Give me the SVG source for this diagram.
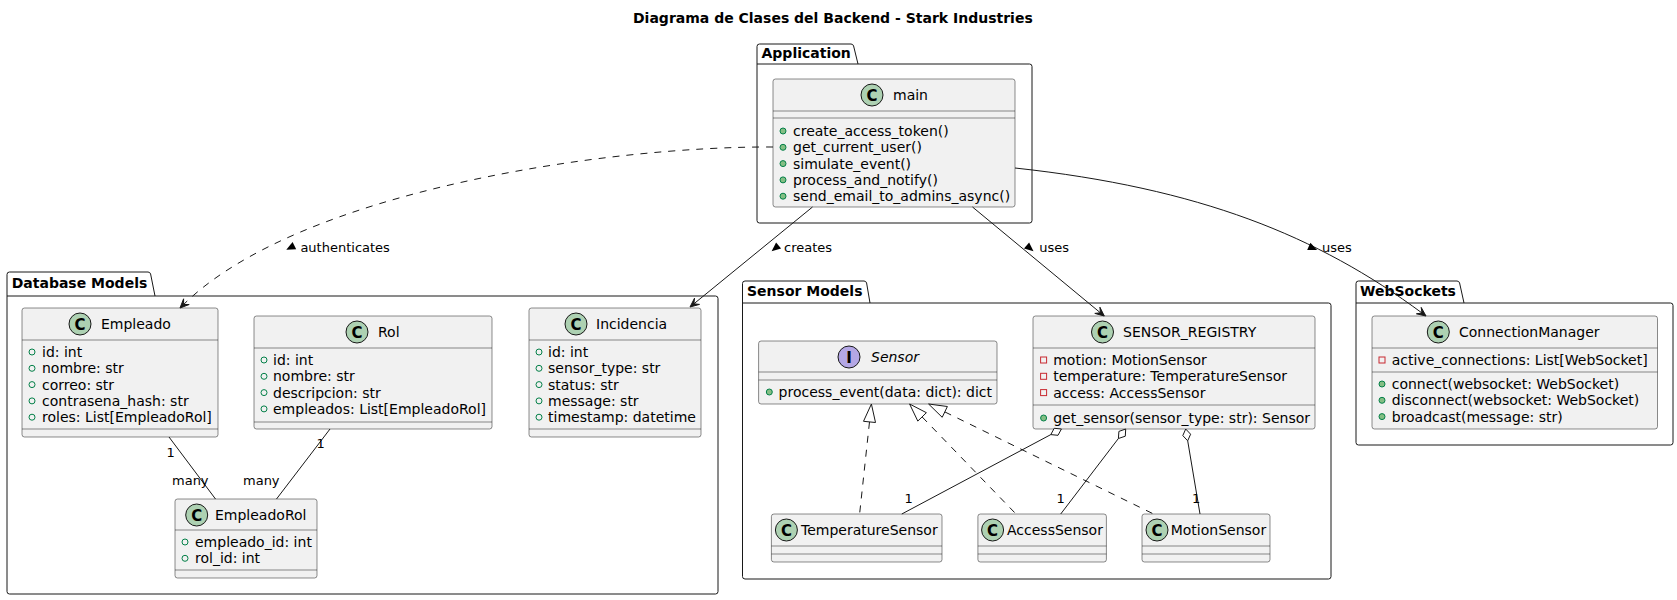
<svg xmlns="http://www.w3.org/2000/svg" width="1677" height="600" viewBox="0 0 1677 600">
<style>
.cls{fill:#F1F1F1;stroke:#181818;stroke-width:0.5}
.sep{stroke:#181818;stroke-width:0.5}
.pkg{fill:none;stroke:#181818;stroke-width:1}
text{font-family:"DejaVu Sans","Liberation Sans",sans-serif;fill:#000000}
.t{font-size:14px}
.pt{font-size:14px;font-weight:bold}
.title{font-size:14px;font-weight:bold}
.lbl{font-size:13px}
.ci{fill:#ADD1B2;stroke:#181818;stroke-width:1}
.ii{fill:#B4A7E5;stroke:#181818;stroke-width:1}
.cg{font-size:15px;font-weight:bold;text-anchor:middle}
.pm{fill:#84BE84;stroke:#038048;stroke-width:1}
.pf{fill:none;stroke:#038048;stroke-width:1}
.pr{fill:none;stroke:#C82930;stroke-width:1}
.ln{fill:none;stroke:#181818;stroke-width:1}
.dash{stroke-dasharray:7,7}
.ah{fill:#181818;stroke:#181818;stroke-width:1}
.hol{fill:#FFFFFF;stroke:#181818;stroke-width:1}
.tri{fill:#000000}
</style>
<rect x="0" y="0" width="1677" height="600" fill="#FFFFFF"/>
<text class="title" x="633" y="23">Diagrama de Clases del Backend - Stark Industries</text>

<g id="pkg-application">
<path class="pkg" d="M757,64 L757,46.5 Q757,44 759.5,44 L851,44 Q853,44 853.6,46 L858,64 L1029.5,64 Q1032,64 1032,66.5 L1032,220.5 Q1032,223 1029.5,223 L759.5,223 Q757,223 757,220.5 Z M757,64 L858,64"/>
<text class="pt" x="761.5" y="58">Application</text>
</g>
<g id="pkg-database">
<path class="pkg" d="M7,296 L7,274.5 Q7,272 9.5,272 L148,272 Q150,272 150.6,274 L155,296 L715.5,296 Q718,296 718,298.5 L718,591.5 Q718,594 715.5,594 L9.5,594 Q7,594 7,591.5 Z M7,296 L155,296"/>
<text class="pt" x="11.7" y="288">Database Models</text>
</g>
<g id="pkg-sensor">
<path class="pkg" d="M742.5,303 L742.5,283.5 Q742.5,281 745,281 L864,281 Q866,281 866.6,283 L870,303 L1328.5,303 Q1331,303 1331,305.5 L1331,576.5 Q1331,579 1328.5,579 L745,579 Q742.5,579 742.5,576.5 Z M742.5,303 L870,303"/>
<text class="pt" x="747" y="296">Sensor Models</text>
</g>
<g id="pkg-websockets">
<path class="pkg" d="M1356,303 L1356,283.5 Q1356,281 1358.5,281 L1457,281 Q1459,281 1459.6,283 L1464,303 L1670.5,303 Q1673,303 1673,305.5 L1673,442.5 Q1673,445 1670.5,445 L1358.5,445 Q1356,445 1356,442.5 Z M1356,303 L1464,303"/>
<text class="pt" x="1360" y="296">WebSockets</text>
</g>

<g id="main">
<rect class="cls" x="773" y="79" width="242" height="128" rx="2.5"/>
<line class="sep" x1="773" y1="111" x2="1015" y2="111"/>
<line class="sep" x1="773" y1="118" x2="1015" y2="118"/>
<circle class="ci" cx="872" cy="95" r="11"/>
<text class="cg" x="872" y="100.5">C</text>
<text class="t" x="893" y="100">main</text>
<circle class="pm" cx="783" cy="131" r="3"/><text class="t" x="793" y="136">create_access_token()</text>
<circle class="pm" cx="783" cy="147.3" r="3"/><text class="t" x="793" y="152.3">get_current_user()</text>
<circle class="pm" cx="783" cy="163.6" r="3"/><text class="t" x="793" y="168.6">simulate_event()</text>
<circle class="pm" cx="783" cy="179.9" r="3"/><text class="t" x="793" y="184.9">process_and_notify()</text>
<circle class="pm" cx="783" cy="196.2" r="3"/><text class="t" x="793" y="201.2">send_email_to_admins_async()</text>
</g>

<g id="Empleado">
<rect class="cls" x="22" y="308" width="196" height="129" rx="2.5"/>
<line class="sep" x1="22" y1="340" x2="218" y2="340"/>
<line class="sep" x1="22" y1="429" x2="218" y2="429"/>
<circle class="ci" cx="80" cy="324" r="11"/>
<text class="cg" x="80" y="329.5">C</text>
<text class="t" x="101" y="329">Empleado</text>
<circle class="pf" cx="32" cy="352" r="3"/><text class="t" x="42" y="357">id: int</text>
<circle class="pf" cx="32" cy="368.3" r="3"/><text class="t" x="42" y="373.3">nombre: str</text>
<circle class="pf" cx="32" cy="384.6" r="3"/><text class="t" x="42" y="389.6">correo: str</text>
<circle class="pf" cx="32" cy="400.9" r="3"/><text class="t" x="42" y="405.9">contrasena_hash: str</text>
<circle class="pf" cx="32" cy="417.2" r="3"/><text class="t" x="42" y="422.2">roles: List[EmpleadoRol]</text>
</g>

<g id="Rol">
<rect class="cls" x="254" y="316" width="238" height="113" rx="2.5"/>
<line class="sep" x1="254" y1="348" x2="492" y2="348"/>
<line class="sep" x1="254" y1="422" x2="492" y2="422"/>
<circle class="ci" cx="357" cy="332" r="11"/>
<text class="cg" x="357" y="337.5">C</text>
<text class="t" x="378" y="337">Rol</text>
<circle class="pf" cx="264" cy="360" r="3"/><text class="t" x="273" y="365">id: int</text>
<circle class="pf" cx="264" cy="376.3" r="3"/><text class="t" x="273" y="381.3">nombre: str</text>
<circle class="pf" cx="264" cy="392.6" r="3"/><text class="t" x="273" y="397.6">descripcion: str</text>
<circle class="pf" cx="264" cy="408.9" r="3"/><text class="t" x="273" y="413.9">empleados: List[EmpleadoRol]</text>
</g>

<g id="Incidencia">
<rect class="cls" x="529" y="308" width="172" height="129" rx="2.5"/>
<line class="sep" x1="529" y1="340" x2="701" y2="340"/>
<line class="sep" x1="529" y1="429" x2="701" y2="429"/>
<circle class="ci" cx="576" cy="324" r="11"/>
<text class="cg" x="576" y="329.5">C</text>
<text class="t" x="596" y="329">Incidencia</text>
<circle class="pf" cx="539" cy="352" r="3"/><text class="t" x="548" y="357">id: int</text>
<circle class="pf" cx="539" cy="368.3" r="3"/><text class="t" x="548" y="373.3">sensor_type: str</text>
<circle class="pf" cx="539" cy="384.6" r="3"/><text class="t" x="548" y="389.6">status: str</text>
<circle class="pf" cx="539" cy="400.9" r="3"/><text class="t" x="548" y="405.9">message: str</text>
<circle class="pf" cx="539" cy="417.2" r="3"/><text class="t" x="548" y="422.2">timestamp: datetime</text>
</g>

<g id="EmpleadoRol">
<rect class="cls" x="175" y="499" width="142" height="79" rx="2.5"/>
<line class="sep" x1="175" y1="530" x2="317" y2="530"/>
<line class="sep" x1="175" y1="570" x2="317" y2="570"/>
<circle class="ci" cx="196.7" cy="515" r="11"/>
<text class="cg" x="196.7" y="520.5">C</text>
<text class="t" x="215" y="520">EmpleadoRol</text>
<circle class="pf" cx="185" cy="542" r="3"/><text class="t" x="195" y="547">empleado_id: int</text>
<circle class="pf" cx="185" cy="558.3" r="3"/><text class="t" x="195" y="563.3">rol_id: int</text>
</g>

<g id="Sensor">
<rect class="cls" x="758.6" y="341" width="238.4" height="63" rx="2.5"/>
<line class="sep" x1="758.6" y1="372" x2="997" y2="372"/>
<line class="sep" x1="758.6" y1="380" x2="997" y2="380"/>
<circle class="ii" cx="849" cy="357" r="11"/>
<text class="cg" x="849" y="362.5">I</text>
<text class="t" x="871" y="362" font-style="italic">Sensor</text>
<circle class="pm" cx="769.3" cy="392" r="3"/><text class="t" x="778.6" y="397">process_event(data: dict): dict</text>
</g>

<g id="SENSOR_REGISTRY">
<rect class="cls" x="1033" y="316" width="282" height="113" rx="2.5"/>
<line class="sep" x1="1033" y1="348" x2="1315" y2="348"/>
<line class="sep" x1="1033" y1="405" x2="1315" y2="405"/>
<circle class="ci" cx="1102.5" cy="332" r="11"/>
<text class="cg" x="1102.5" y="337.5">C</text>
<text class="t" x="1123" y="337">SENSOR_REGISTRY</text>
<rect class="pr" x="1040.6" y="357" width="6" height="6"/><text class="t" x="1053.2" y="365">motion: MotionSensor</text>
<rect class="pr" x="1040.6" y="373.3" width="6" height="6"/><text class="t" x="1053.2" y="381.3">temperature: TemperatureSensor</text>
<rect class="pr" x="1040.6" y="389.6" width="6" height="6"/><text class="t" x="1053.2" y="397.6">access: AccessSensor</text>
<circle class="pm" cx="1043.6" cy="418" r="3"/><text class="t" x="1053.2" y="423">get_sensor(sensor_type: str): Sensor</text>
</g>

<g id="TemperatureSensor">
<rect class="cls" x="771.4" y="514" width="170.6" height="48" rx="2.5"/>
<line class="sep" x1="771.4" y1="546" x2="942" y2="546"/>
<line class="sep" x1="771.4" y1="554" x2="942" y2="554"/>
<circle class="ci" cx="786.4" cy="530" r="11"/>
<text class="cg" x="786.4" y="535.5">C</text>
<text class="t" x="801" y="535">TemperatureSensor</text>
</g>
<g id="AccessSensor">
<rect class="cls" x="977.9" y="514" width="128.5" height="48" rx="2.5"/>
<line class="sep" x1="977.9" y1="546" x2="1106.4" y2="546"/>
<line class="sep" x1="977.9" y1="554" x2="1106.4" y2="554"/>
<circle class="ci" cx="992.6" cy="530" r="11"/>
<text class="cg" x="992.6" y="535.5">C</text>
<text class="t" x="1007" y="535">AccessSensor</text>
</g>
<g id="MotionSensor">
<rect class="cls" x="1142" y="514" width="128" height="48" rx="2.5"/>
<line class="sep" x1="1142" y1="546" x2="1270" y2="546"/>
<line class="sep" x1="1142" y1="554" x2="1270" y2="554"/>
<circle class="ci" cx="1157" cy="530" r="11"/>
<text class="cg" x="1157" y="535.5">C</text>
<text class="t" x="1170.7" y="535">MotionSensor</text>
</g>

<g id="ConnectionManager">
<rect class="cls" x="1372" y="316" width="285.5" height="113" rx="2.5"/>
<line class="sep" x1="1372" y1="348" x2="1657.5" y2="348"/>
<line class="sep" x1="1372" y1="372" x2="1657.5" y2="372"/>
<circle class="ci" cx="1438.3" cy="332" r="11"/>
<text class="cg" x="1438.3" y="337.5">C</text>
<text class="t" x="1459" y="337">ConnectionManager</text>
<rect class="pr" x="1379" y="357" width="6" height="6"/><text class="t" x="1391.7" y="365">active_connections: List[WebSocket]</text>
<circle class="pm" cx="1382" cy="384" r="3"/><text class="t" x="1391.7" y="389">connect(websocket: WebSocket)</text>
<circle class="pm" cx="1382" cy="400.3" r="3"/><text class="t" x="1391.7" y="405.3">disconnect(websocket: WebSocket)</text>
<circle class="pm" cx="1382" cy="416.6" r="3"/><text class="t" x="1391.7" y="421.6">broadcast(message: str)</text>
</g>

<g id="connectors">
<!-- main authenticates Empleado -->
<path class="ln dash" d="M773,147 C610,146 300,190 183.6,304.5"/>
<polygon class="ah" points="180,308 189.2,304.5 183.6,304.5 183.6,298.8"/>
<polygon class="tri" points="286.3,249.7 292.6,242.1 296.2,249.3"/>
<text class="lbl" x="300.4" y="252">authenticates</text>
<!-- main creates Incidencia -->
<path class="ln" d="M812.5,207 L693.9,303.8"/>
<polygon class="ah" points="690,307 694.5,298.2 693.9,303.8 699.5,304.4"/>
<polygon class="tri" points="771.6,251.2 776.1,242.4 781.1,248.6"/>
<text class="lbl" x="784" y="252">creates</text>
<!-- main uses SENSOR_REGISTRY -->
<path class="ln" d="M972.5,207 L1100.4,312.8"/>
<polygon class="ah" points="1104.3,316 1094.8,313.4 1100.4,312.8 1099.9,307.2"/>
<polygon class="tri" points="1033.5,251.2 1024,248.6 1029.1,242.4"/>
<text class="lbl" x="1039.3" y="252">uses</text>
<!-- main uses ConnectionManager -->
<path class="ln" d="M1015,168 C1200,188 1318,236 1422,313"/>
<polygon class="ah" points="1426,316 1416.4,313.8 1422,313 1421.2,307.4"/>
<polygon class="tri" points="1317.1,250 1307.2,250.1 1310.4,242.7"/>
<text class="lbl" x="1322" y="252">uses</text>
<!-- Empleado - EmpleadoRol -->
<path class="ln" d="M169,437 L215.5,499"/>
<text class="lbl" x="166.5" y="457">1</text>
<text class="lbl" x="172" y="485">many</text>
<!-- Rol - EmpleadoRol -->
<path class="ln" d="M330,429 L276.5,499"/>
<text class="lbl" x="316.5" y="448">1</text>
<text class="lbl" x="243" y="485">many</text>
<!-- realizations -->
<path class="ln dash" d="M869.5,421.9 L859.6,514"/>
<polygon class="hol" points="871.4,404 863.5,421.3 875.5,422.5"/>
<path class="ln dash" d="M922.1,416.9 L1016,514"/>
<polygon class="hol" points="909.6,404 917.8,421.1 926.4,412.7"/>
<path class="ln dash" d="M944.8,411.9 L1153.6,514"/>
<polygon class="hol" points="928.6,404 942.2,417.3 947.4,406.5"/>
<!-- aggregations -->
<path class="ln" d="M1050.8,434.6 L901.8,514"/>
<polygon class="hol" points="1061.4,429 1054.2,428.3 1050.8,434.6 1058,435.3"/>
<text class="lbl" x="904.5" y="503">1</text>
<path class="ln" d="M1118.4,438.5 L1060.7,514"/>
<polygon class="hol" points="1125.7,429 1118.9,431.4 1118.4,438.5 1125.3,436.2"/>
<text class="lbl" x="1056.5" y="503">1</text>
<path class="ln" d="M1187.7,440.8 L1200,514"/>
<polygon class="hol" points="1185.7,429 1182.8,435.6 1187.7,440.8 1190.6,434.2"/>
<text class="lbl" x="1192" y="503">1</text>
</g>
</svg>
